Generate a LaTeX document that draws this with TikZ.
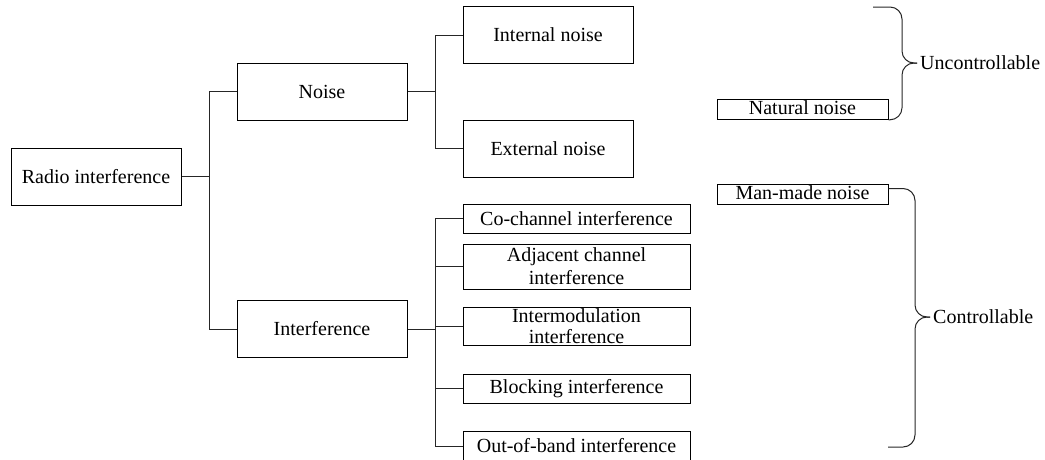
\documentclass[tikz,border=0pt]{standalone}
\usepackage{fontspec}
\setmainfont{Liberation Serif}
\usepackage{tikz}
\usepackage{xcolor}
\usetikzlibrary{calc}
\tikzset{
  % Tree line style
  gline/.style={
    line width = 1pt
    , black!85
  },
}
\tikzset{
  %category node style
  catbox/.style={
    draw
    , line width=1pt
    , anchor=center
    , align=center
    , font=\fontsize{20}{23}\selectfont
    , inner xsep=2pt
    , inner ysep=1pt
    , minimum width=170pt
    , minimum height=57pt
  },
  %leaf node style
  leafbox/.style={
    catbox
    , minimum width=227pt
    , minimum height=29pt
  },
  %source node style
  srcbox/.style={
    catbox
    , minimum width=171pt
    , minimum height=20pt
    , inner ysep=0pt
    , text height=13pt
    , text depth=3pt
  },
  %brace label style
  bracelabel/.style={
    anchor=west
    , inner xsep=3pt
    , font=\fontsize{20}{23}\selectfont
  },
}

\begin{document}
\begin{tikzpicture}[x=1pt, y=-1pt]
      \useasboundingbox (0,0) rectangle (1045,459);

      \node[catbox] (radio) at (96,176.5) {Radio interference};
      \node[catbox] (noise) at (322,91.5) {Noise};
      \node[catbox] (interf) at (322,329) {Interference};

      \node[catbox] (internal) at (548,35) {Internal noise};
      \node[catbox] (external) at (548,148.5) {External noise};

      \node[leafbox] (cochan) at (576.5,218.5) {Co-channel interference};
      \node[leafbox, minimum height=45pt] (adjchan) at (576.5,266.5) {Adjacent channel\\interference};
      \node[leafbox, minimum height=38pt, font=\fontsize{20}{21}\selectfont] (intermod) at (576.5,326) {Intermodulation\\interference};
      \node[leafbox] (blocking) at (576.5,388.5) {Blocking interference};
      \node[leafbox, minimum height=30pt] (outband) at (576.5,446) {Out-of-band interference};

      \node[srcbox] (natural) at (802.5,109.3) {Natural noise};
      \node[srcbox] (manmade) at (802.5,194.5) {Man-made noise};

      \node[bracelabel] (uctl) at (917,63) {Uncontrollable};
      \node[bracelabel] (ctl) at (930,317) {Controllable};

      \coordinate (utop) at (873,7);
      \coordinate (cbot) at (888,447);

      \draw[gline] (radio.east) -- ++(28,0) |- (noise.west);
      \draw[gline] (radio.east) -- ++(28,0) |- (interf.west);

      \draw[gline] (noise.east) -- ++(28,0) |- (internal.west);
      \draw[gline] (noise.east) -- ++(28,0) |- (external.west);

      \foreach \leaf in {cochan, adjchan, intermod, blocking, outband}
        \draw[gline] (interf.east) -- ++(28,0) |- (\leaf.west);

      % braces
      \draw[gline, rounded corners=12pt] (utop) -| ([xshift=-15pt]uctl.west) -- (uctl.west);
      \draw[gline, rounded corners=12pt] (uctl.west) -- ([xshift=-15pt]uctl.west) |- (natural.south east);

      \draw[gline, rounded corners=12pt] ([yshift=6pt]manmade.east) -| ([xshift=-15pt]ctl.west) -- (ctl.west);
      \draw[gline, rounded corners=12pt] (ctl.west) -- ([xshift=-15pt]ctl.west) |- (cbot);
    \end{tikzpicture}
\end{document}
